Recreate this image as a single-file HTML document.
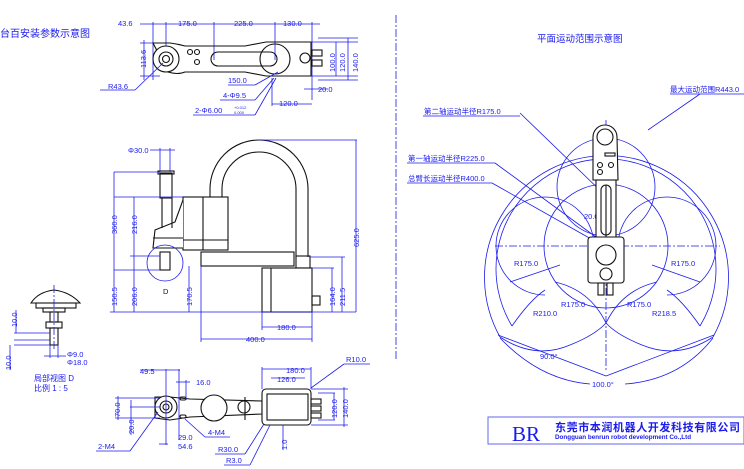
<!DOCTYPE html>
<html><head><meta charset="utf-8"><style>
html,body{margin:0;padding:0;background:#fff;}
svg{display:block;font-size:7.5px}
text{font-family:"Liberation Sans","Noto Sans CJK SC",sans-serif;fill:#1a1aee}
.b{stroke:#1a1aee;fill:none;stroke-width:0.8}
.k{stroke:#111;fill:none;stroke-width:1.1}
.kf{stroke:#111;fill:#fff;stroke-width:1.1}
.dash{stroke-dasharray:8 2 2 2}
</style></head><body>
<svg width="744" height="469" viewBox="0 0 744 469" xmlns="http://www.w3.org/2000/svg">
<!-- titles -->
<text x="0" y="37" font-size="10">台百安装参数示意图</text>
<text x="537" y="42" font-size="9.5">平面运动范围示意图</text>
<line x1="396" y1="15" x2="396" y2="360" class="b dash"/>

<!-- ===== top-left top view ===== -->
<g>
<line x1="153" y1="22" x2="153" y2="80" class="b"/><line x1="166" y1="22" x2="166" y2="60" class="b"/>
<line x1="214" y1="22" x2="214" y2="60" class="b"/><line x1="275" y1="22" x2="275" y2="60" class="b"/>
<line x1="312" y1="22" x2="312" y2="100" class="b"/>
<line x1="140" y1="24" x2="320" y2="24" class="b"/>
<text x="118" y="26">43.6</text><text x="178" y="26">175.0</text><text x="234" y="26">225.0</text><text x="283" y="26">130.0</text>
<line x1="140" y1="43" x2="160" y2="43" class="b"/><line x1="140" y1="76" x2="160" y2="76" class="b"/>
<line x1="144" y1="40" x2="144" y2="80" class="b"/>
<text transform="translate(146,68) rotate(-90)">113.6</text>
<path d="M153 43 L170 43 Q178 44 185 46 L245 46 L266 42 L311 42 L311 76 L266 76 L245 72 L185 72 Q178 75 168 72 Z" class="k"/>
<circle cx="166" cy="59" r="13" class="kf"/><circle cx="166" cy="59" r="7" class="k"/><circle cx="166" cy="59" r="3.5" class="k"/>
<rect x="211" y="52" width="66" height="14" rx="7" class="k"/>
<circle cx="275" cy="59" r="15" class="k"/>
<rect x="312" y="50" width="10" height="6" class="k"/><rect x="312" y="60" width="10" height="6" class="k"/>
<circle cx="190" cy="52" r="2.5" class="k"/><circle cx="197" cy="52" r="2.5" class="k"/><circle cx="197" cy="62" r="2.5" class="k"/><circle cx="305" cy="58" r="5" class="k"/>
<line x1="100" y1="90" x2="135" y2="90" class="b"/><line x1="135" y1="90" x2="163" y2="63" class="b"/>
<text x="108" y="89">R43.6</text>
<line x1="228" y1="85" x2="255" y2="85" class="b"/><line x1="255" y1="85" x2="278" y2="72" class="b"/><text x="228" y="83">150.0</text>
<line x1="220" y1="100" x2="255" y2="100" class="b"/><line x1="255" y1="100" x2="274" y2="78" class="b"/><text x="223" y="98">4-Φ9.5</text>
<line x1="193" y1="115" x2="255" y2="115" class="b"/><line x1="255" y1="115" x2="276" y2="78" class="b"/><text x="195" y="113">2-Φ6.00</text>
<text x="234" y="109" font-size="4">+0.012</text><text x="234" y="114" font-size="4">0.000</text>
<line x1="272" y1="78" x2="272" y2="106" class="b"/><line x1="272" y1="104" x2="312" y2="104" class="b"/><text x="279" y="106">120.0</text>
<line x1="304" y1="89" x2="328" y2="89" class="b"/><text x="318" y="92">20.0</text>
<line x1="311" y1="42" x2="358" y2="42" class="b"/><line x1="311" y1="76" x2="358" y2="76" class="b"/><line x1="318" y1="38" x2="358" y2="38" class="b"/><line x1="318" y1="80" x2="358" y2="80" class="b"/>
<line x1="336" y1="42" x2="336" y2="76" class="b"/><line x1="348" y1="38" x2="348" y2="80" class="b"/>
<text transform="translate(335,72) rotate(-90)">100.0</text><text transform="translate(345,72) rotate(-90)">120.0</text><text transform="translate(358,72) rotate(-90)">140.0</text>
</g>

<!-- ===== side view ===== -->
<g>
<path d="M210 197 L210 189 A49 49 0 0 1 308 189 L308 257" class="k"/>
<path d="M222 197 L222 189 A37 37 0 0 1 296 189 L296 257" class="k"/>
<rect x="183" y="197" width="45" height="53" class="kf"/>
<line x1="203" y1="197" x2="203" y2="250" class="k"/><line x1="183" y1="240" x2="228" y2="240" class="k"/>
<path d="M183 200 L175 222 L155 230 L153 248 L183 248" class="kf"/>
<line x1="153" y1="238" x2="183" y2="238" class="k"/>
<rect x="160" y="173" width="12" height="25" class="k"/><rect x="158" y="171" width="16" height="3" class="k"/>
<line x1="172" y1="198" x2="172" y2="228" class="k"/><line x1="162" y1="198" x2="162" y2="228" class="k"/>
<rect x="201" y="252" width="93" height="14" class="kf"/>
<rect x="296" y="256" width="14" height="12" class="k"/>
<rect x="262" y="268" width="50" height="44" class="kf"/><line x1="271" y1="268" x2="271" y2="312" class="k"/>
<rect x="312" y="296" width="8" height="9" class="k"/>
<rect x="160" y="252" width="10" height="18" class="k"/>
<circle cx="165" cy="263" r="18" class="b" stroke="#555"/>
<text x="163" y="294" style="fill:#111">D</text>
<line x1="110" y1="312" x2="356" y2="312" class="b"/>
<line x1="114" y1="172" x2="160" y2="172" class="b"/><line x1="114" y1="197" x2="183" y2="197" class="b"/><line x1="114" y1="270" x2="160" y2="270" class="b"/><line x1="130" y1="256" x2="160" y2="256" class="b"/>
<line x1="114" y1="172" x2="114" y2="312" class="b"/><line x1="134" y1="197" x2="134" y2="312" class="b"/><line x1="189" y1="266" x2="189" y2="312" class="b"/>
<text transform="translate(117,234) rotate(-90)">360.0</text><text transform="translate(137,234) rotate(-90)">216.0</text>
<text transform="translate(117,306) rotate(-90)">150.5</text><text transform="translate(137,306) rotate(-90)">206.0</text><text transform="translate(192,306) rotate(-90)">170.5</text>
<line x1="160" y1="148" x2="160" y2="172" class="b"/><line x1="170" y1="148" x2="170" y2="172" class="b"/><line x1="150" y1="150" x2="175" y2="150" class="b"/>
<text x="128" y="153">Φ30.0</text>
<line x1="259" y1="140" x2="357" y2="140" class="b"/><line x1="356" y1="140" x2="356" y2="312" class="b"/>
<text transform="translate(359,247) rotate(-90)">625.0</text>
<line x1="310" y1="257" x2="345" y2="257" class="b"/><line x1="312" y1="268" x2="334" y2="268" class="b"/>
<line x1="332" y1="268" x2="332" y2="312" class="b"/><line x1="342" y1="257" x2="342" y2="312" class="b"/>
<text transform="translate(335,306) rotate(-90)">164.0</text><text transform="translate(345,306) rotate(-90)">211.5</text>
<line x1="262" y1="312" x2="262" y2="330" class="b"/><line x1="312" y1="312" x2="312" y2="342" class="b"/><line x1="201" y1="266" x2="201" y2="342" class="b"/>
<line x1="262" y1="327" x2="312" y2="327" class="b"/><text x="277" y="330">180.0</text>
<line x1="201" y1="339" x2="312" y2="339" class="b"/><text x="246" y="342">400.0</text>
</g>

<!-- ===== detail D ===== -->
<g>
<path d="M31 303 Q38 292 54 290 Q70 292 80 303 Z" class="k"/>
<rect x="36" y="303" width="40" height="5" class="k"/><rect x="43" y="308" width="22" height="4" class="k"/>
<rect x="50" y="312" width="8" height="10" class="k"/><rect x="46" y="322" width="16" height="6" class="k"/>
<rect x="50" y="328" width="8" height="17" class="k"/><line x1="54" y1="285" x2="54" y2="350" class="b dash"/>
<line x1="14" y1="333" x2="50" y2="333" class="b"/><line x1="14" y1="340" x2="50" y2="340" class="b"/><line x1="14" y1="345" x2="50" y2="345" class="b"/>
<line x1="16" y1="310" x2="16" y2="333" class="b"/><line x1="10" y1="345" x2="10" y2="370" class="b"/>
<text transform="translate(17,327) rotate(-90)">10.0</text><text transform="translate(11,370) rotate(-90)">10.0</text>
<line x1="50" y1="345" x2="50" y2="358" class="b"/><line x1="58" y1="345" x2="58" y2="358" class="b"/><line x1="44" y1="356" x2="66" y2="356" class="b"/>
<text x="67" y="357">Φ9.0</text><text x="67" y="365">Φ18.0</text>
<text x="34" y="381" font-size="8">局部视图 D</text><text x="34" y="391" font-size="8">比例 1 : 5</text>
</g>

<!-- ===== bottom top view ===== -->
<g>
<path d="M155 397 L170 397 L190 399 L262 401 L262 414 L190 417 L170 420 L155 418 Z" class="k"/>
<circle cx="166" cy="407" r="11" class="kf"/><circle cx="166" cy="407" r="6" class="k"/><circle cx="166" cy="407" r="3" class="k"/>
<circle cx="214" cy="408" r="13" class="kf"/><circle cx="244" cy="407" r="6" class="kf"/>
<line x1="245" y1="397" x2="245" y2="420" class="k"/>
<rect x="180" y="397" width="6" height="3" rx="1.5" class="k"/><rect x="180" y="415" width="6" height="3" rx="1.5" class="k"/>
<rect x="262" y="389" width="49" height="36" rx="4" class="kf"/><rect x="267" y="394" width="41" height="26" class="k"/>
<rect x="311" y="399" width="10" height="5" class="k"/><rect x="311" y="406" width="10" height="5" class="k"/><rect x="311" y="413" width="10" height="5" class="k"/>
<line x1="166" y1="369" x2="166" y2="445" class="b"/><line x1="179" y1="369" x2="179" y2="440" class="b"/><line x1="186" y1="380" x2="186" y2="400" class="b"/>
<line x1="140" y1="370" x2="180" y2="370" class="b"/><text x="140" y="374">49.5</text>
<line x1="176" y1="382" x2="190" y2="382" class="b"/><text x="196" y="385">16.0</text>
<line x1="115" y1="398" x2="160" y2="398" class="b"/><line x1="115" y1="418" x2="160" y2="418" class="b"/><line x1="130" y1="407" x2="160" y2="407" class="b"/>
<line x1="118" y1="396" x2="118" y2="420" class="b"/><line x1="131" y1="400" x2="131" y2="435" class="b"/>
<text transform="translate(120,417) rotate(-90)">70.0</text><text transform="translate(134,434) rotate(-90)">20.0</text>
<line x1="96" y1="451" x2="130" y2="451" class="b"/><line x1="130" y1="451" x2="158" y2="412" class="b"/><text x="98" y="449">2-M4</text>
<line x1="205" y1="437" x2="230" y2="437" class="b"/><line x1="205" y1="437" x2="185" y2="419" class="b"/><text x="208" y="435">4-M4</text>
<text x="178" y="440">29.0</text><text x="178" y="449">54.6</text><line x1="159" y1="444" x2="168" y2="444" class="b"/>
<line x1="262" y1="367" x2="262" y2="389" class="b"/><line x1="311" y1="367" x2="311" y2="389" class="b"/>
<line x1="262" y1="369" x2="311" y2="369" class="b"/><text x="286" y="373">180.0</text>
<line x1="271" y1="378" x2="305" y2="378" class="b"/><text x="277" y="382">126.0</text>
<line x1="344" y1="364" x2="370" y2="364" class="b"/><line x1="344" y1="364" x2="311" y2="388" class="b"/><text x="346" y="362">R10.0</text>
<line x1="311" y1="389" x2="348" y2="389" class="b"/><line x1="311" y1="425" x2="348" y2="425" class="b"/><line x1="318" y1="393" x2="335" y2="393" class="b"/><line x1="318" y1="420" x2="335" y2="420" class="b"/>
<line x1="334" y1="393" x2="334" y2="420" class="b"/><line x1="344" y1="387" x2="344" y2="427" class="b"/>
<text transform="translate(337,418) rotate(-90)">120.0</text><text transform="translate(348,418) rotate(-90)">140.0</text>
<line x1="283" y1="425" x2="283" y2="450" class="b"/><text transform="translate(287,450) rotate(-90)">1.0</text>
<line x1="215" y1="454" x2="245" y2="454" class="b"/><line x1="245" y1="454" x2="264" y2="424" class="b"/><text x="218" y="452">R30.0</text>
<line x1="224" y1="465" x2="250" y2="465" class="b"/><line x1="250" y1="465" x2="270" y2="425" class="b"/><text x="226" y="463">R3.0</text>
</g>

<!-- ===== right range view ===== -->
<g>
<line x1="495" y1="246" x2="720" y2="246" class="b dash"/>
<line x1="606" y1="120" x2="606" y2="372" class="b dash"/>
<path d="M500 337 A122 122 0 1 1 713 337" class="b"/>
<path d="M512 326 A110 110 0 1 1 700 326" class="b"/>
<circle cx="606" cy="187" r="49" class="b"/>
<circle cx="606" cy="246" r="62" class="b"/>
<path d="M545 295 A49 49 0 1 1 594 246" class="b"/>
<path d="M667 295 A49 49 0 1 0 618 246" class="b"/>
<path d="M500 337 Q535 360 570 345 Q595 335 606 323 Q590 290 555 282" class="b"/>
<path d="M713 337 Q678 360 642 345 Q617 335 606 323 Q622 290 657 282" class="b"/>
<path d="M512 326 Q530 300 545 290" class="b"/><path d="M700 326 Q682 300 667 290" class="b"/>
<line x1="498" y1="335" x2="606" y2="376" class="b"/><line x1="714" y1="335" x2="606" y2="376" class="b"/>
<path d="M500 338 Q540 380 590 384" class="b"/><path d="M625 384 Q680 380 713 338" class="b"/>
<line x1="520" y1="113" x2="610" y2="200" class="b"/>
<line x1="495" y1="163" x2="600" y2="240" class="b"/>
<line x1="492" y1="183" x2="600" y2="244" class="b"/>
<line x1="700" y1="94" x2="648" y2="130" class="b"/>
<line x1="423" y1="116" x2="520" y2="116" class="b"/><line x1="407" y1="163" x2="495" y2="163" class="b"/><line x1="407" y1="183" x2="492" y2="183" class="b"/>
<line x1="670" y1="94" x2="744" y2="94" class="b"/>
<text x="424" y="114">第二轴运动半径R175.0</text>
<text x="408" y="161">第一轴运动半径R225.0</text>
<text x="408" y="181">总臂长运动半径R400.0</text>
<text x="670" y="92">最大运动范围R443.0</text>
<line x1="560" y1="265" x2="510" y2="282" class="b"/><line x1="652" y1="265" x2="700" y2="282" class="b"/>
<text x="514" y="266">R175.0</text><text x="671" y="266">R175.0</text>
<text x="561" y="307">R175.0</text><text x="627" y="307">R175.0</text>
<text x="533" y="316">R210.0</text><text x="652" y="316">R218.5</text>
<text x="540" y="359">90.0°</text><text x="592" y="387">100.0°</text>
<text x="584" y="219">20.0°</text>
<!-- robot -->
<path d="M593 180 L593 137 A12 12 0 0 1 617 137 L618 180 Z" class="kf"/>
<circle cx="605" cy="137" r="8" class="k"/>
<rect x="596" y="180" width="20" height="60" class="kf"/><line x1="606" y1="185" x2="606" y2="238" class="k"/>
<rect x="601" y="185" width="10" height="50" rx="5" class="k"/>
<rect x="588" y="237" width="36" height="46" rx="3" class="kf"/>
<circle cx="606" cy="255" r="10" class="k"/><circle cx="606" cy="274" r="6" class="k"/>
<rect x="598" y="283" width="6" height="12" class="k"/><rect x="607" y="283" width="6" height="12" class="k"/>
<circle cx="600" cy="165" r="2.5" class="k"/><circle cx="611" cy="165" r="2.5" class="k"/><circle cx="600" cy="172" r="2.5" class="k"/><rect x="605" y="153" width="10" height="3" class="k"/>
</g>

<!-- logo -->
<rect x="488" y="417" width="256" height="27" fill="#fff" stroke="#6666ee" stroke-width="1"/>
<text x="512" y="441" font-size="21" style="font-family:'Liberation Serif',serif">BR</text>
<text x="555" y="431" font-size="11" font-weight="bold" style="letter-spacing:0.6px">东莞市本润机器人开发科技有限公司</text>
<text x="555" y="439" font-size="6.3" font-weight="bold">Dongguan benrun robot development Co.,Ltd</text>
</svg>
</body></html>
